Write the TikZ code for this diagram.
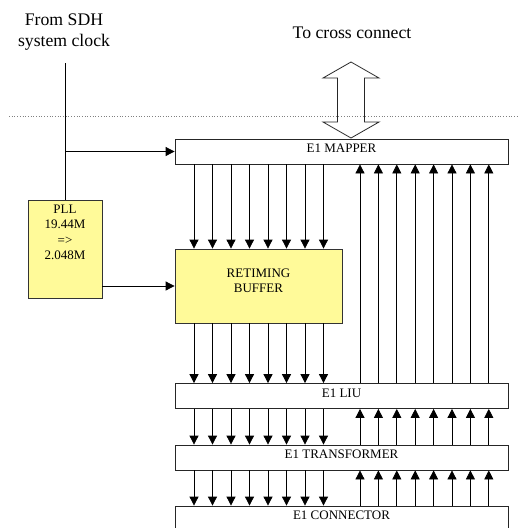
\documentclass[tikz,border=0pt]{standalone}
\usepackage{fontspec}
\setmainfont{Liberation Serif}
\usetikzlibrary{arrows.meta}
\begin{document}
\begin{tikzpicture}[x=1pt,y=-1pt,
  lbox/.style={draw=black!85, line width=0.8pt, fill=white, inner sep=0pt, minimum width=333pt, minimum height=25pt, font=\fontsize{13}{15.5}\selectfont, text depth=6pt},
  ybox/.style={draw=black!80, line width=0.8pt, fill=yellow!40, inner sep=0pt},
  small/.style={font=\fontsize{13}{15.5}\selectfont, align=center, inner sep=0pt},
  big/.style={font=\fontsize{17.7}{21}\selectfont, align=center, inner sep=0pt},
  arr/.style={line width=0.8pt, -{Triangle[length=9pt,width=9pt]}},
  ln/.style={line width=0.8pt}]
\useasboundingbox (0,0) rectangle (519,528);
% dotted separator
\draw[gray, dotted, line width=0.7pt] (9,116) -- (519,116);
% labels
\node[big] (from) at (64,32.5) {From SDH\\system clock};
\node[big] (tocc) at (352,33) {To cross connect};
% boxes
\node[lbox] (mapper) at (341.5,151.5) {E1 MAPPER};
\node[lbox] (liu) at (341.5,396) {E1 LIU};
\node[lbox] (trans) at (341.5,457.5) {E1 TRANSFORMER};
\node[lbox, minimum height=44pt] (conn) at (341.5,528) {};
\node[small] (connt) at (341.5,515) {E1 CONNECTOR};
\node[ybox, minimum width=74pt, minimum height=98pt] (pll) at (65,249) {};
\node[small, anchor=north] (pllt) at (65,204.7) {PLL\\19.44M\\=>\\2.048M};
\node[ybox, minimum width=167pt, minimum height=74pt] (buf) at (258.5,286) {};
\node[small] (buft) at (258.5,281) {RETIMING\\BUFFER};
% double arrow to cross connect
\draw[line width=0.8pt, black!85, line join=miter]
  (351,62) -- (323,78) -- (337.5,78) -- (337.5,122) -- (323,122) -- (351,138)
  -- (379,122) -- (364.5,122) -- (364.5,78) -- (379,78) -- cycle;
% clock path
\coordinate (clk) at (65,63);
\draw[ln] (clk) -- (pll.north);
\draw[arr] (pll.north |- mapper.west) -- (mapper.west);
\draw[arr] (pll.east |- buf.west) -- (buf.west);
% data lines
\foreach \i in {0,...,7} {
  \coordinate (d\i) at ({194+18.5*\i},0);
  \coordinate (u\i) at ({360+18.4*\i},0);
  \draw[arr] (mapper.south -| d\i) -- (buf.north -| d\i);
  \draw[arr] (buf.south -| d\i) -- (liu.north -| d\i);
  \draw[arr] (liu.south -| d\i) -- (trans.north -| d\i);
  \draw[arr] (trans.south -| d\i) -- (conn.north -| d\i);
  \draw[arr] (liu.north -| u\i) -- (mapper.south -| u\i);
  \draw[arr] (trans.north -| u\i) -- (liu.south -| u\i);
  \draw[arr] (conn.north -| u\i) -- (trans.south -| u\i);
}
\end{tikzpicture}
\end{document}
